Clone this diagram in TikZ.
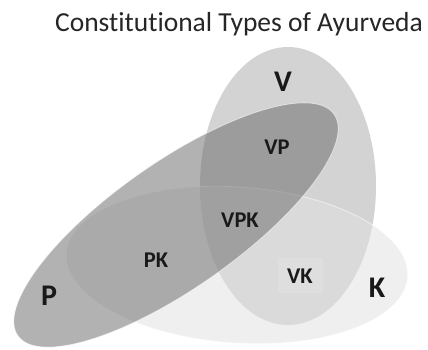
\documentclass[tikz,border=0pt]{standalone}
\usepackage{fontspec}
\setmainfont{Carlito}[Ligatures=NoCommon]
\begin{document}
\begin{tikzpicture}[x=1pt,y=1pt,
  bigl/.style={font=\fontsize{30}{32}\selectfont\bfseries, text=black!90, inner sep=0pt},
  smalll/.style={font=\fontsize{22.5}{24}\selectfont\bfseries, text=black!90, inner sep=0pt},
  setedge/.style={draw=white, draw opacity=0.55, line width=0.8pt}]
\useasboundingbox (0,0) rectangle (428,350);
\fill[white] (0,0) rectangle (428,350);
% V ellipse (opaque light gray)
\fill[fill={rgb,255:red,211;green,211;blue,211}] (288,164) ellipse [x radius=88, y radius=139];
% K ellipse (light, semi-transparent)
\path[fill={rgb,255:red,226;green,226;blue,226}, fill opacity=0.52, setedge, rotate around={-4:(237,85)}] (237,85) ellipse [x radius=171, y radius=78];
% P ellipse (darker, semi-transparent)
\path[fill={rgb,255:red,103;green,103;blue,103}, fill opacity=0.5, setedge, rotate around={35:(176,125)}] (176,125) ellipse [x radius=193, y radius=63];
% VK box
\fill[fill={rgb,255:red,222;green,222;blue,222}] (278,57) rectangle (323,92);
% labels
\node[font=\fontsize{27.5}{29}\selectfont, text=black!85, anchor=base] (title) at (239,318) {Constitutional Types of Ayurveda};
\node[bigl] (v) at (283,268) {V};
\node[bigl] (p) at (49,54) {P};
\node[bigl] (k) at (377,62) {K};
\node[smalll] (vp) at (277,203) {VP};
\node[smalll] (vpk) at (240,130) {VPK};
\node[smalll] (pk) at (156,90) {PK};
\node[smalll] (vk) at (300,74) {VK};
\end{tikzpicture}
\end{document}
